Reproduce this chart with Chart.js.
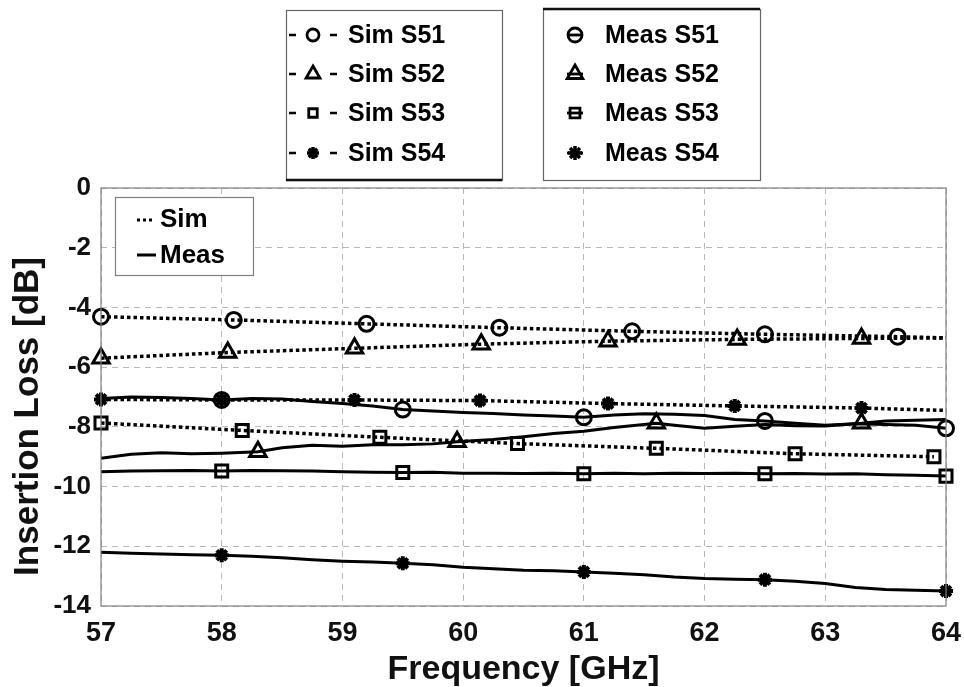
<!DOCTYPE html>
<html>
<head>
<meta charset="utf-8">
<script src="https://cdn.jsdelivr.net/npm/chart.js@4"></script>
<style>
html, body { margin: 0; padding: 0; background: #fff; }
</style>
</head>
<body>
<canvas id="myChart" width="964" height="687"></canvas>
<script>
// simulated curves (dotted)
const simS51Freq = [57, 58.1, 59.2, 60.3, 61.4, 62.5, 63.6, 64];
const simS51 = [-4.31, -4.42, -4.55, -4.68, -4.8, -4.9, -4.98, -5.02];
const simS52Freq = [57, 58.05, 59.1, 60.15, 61.2, 62.27, 63.3, 64];
const simS52 = [-5.7, -5.51, -5.37, -5.23, -5.13, -5.07, -5.04, -5.02];
const simS53Freq = [57, 58.17, 59.31, 60.45, 61.6, 62.75, 63.9];
const simS53 = [-7.87, -8.12, -8.35, -8.56, -8.72, -8.9, -9.0];
const simS54Freq = [57, 58.0, 59.1, 60.14, 61.2, 62.25, 63.3, 64];
const simS54 = [-7.08, -7.1, -7.1, -7.12, -7.22, -7.3, -7.37, -7.45];

// measured curves (solid)
const measFreq = [57, 57.25, 57.5, 57.75, 58, 58.25, 58.5, 58.75, 59, 59.25, 59.5, 59.75, 60, 60.25, 60.5,
                  60.75, 61, 61.25, 61.5, 61.75, 62, 62.25, 62.5, 62.75, 63, 63.25, 63.5, 63.75, 64];
const measS51 = [-7.05, -7.0, -7.02, -7.05, -7.1, -7.05, -7.07, -7.15, -7.22, -7.3, -7.42, -7.47, -7.52, -7.55, -7.6,
                 -7.64, -7.68, -7.6, -7.56, -7.58, -7.62, -7.75, -7.8, -7.88, -7.95, -7.9, -7.92, -7.95, -8.05];
const measS53 = [-9.5, -9.48, -9.47, -9.46, -9.48, -9.46, -9.47, -9.48, -9.5, -9.52, -9.53, -9.52, -9.55, -9.55, -9.56,
                 -9.55, -9.57, -9.55, -9.57, -9.55, -9.56, -9.55, -9.57, -9.56, -9.58, -9.57, -9.6, -9.62, -9.65];
const measS54 = [-12.2, -12.23, -12.26, -12.28, -12.3, -12.33, -12.38, -12.45, -12.5, -12.53, -12.57, -12.62, -12.7, -12.75, -12.8,
                 -12.82, -12.86, -12.9, -12.95, -13.03, -13.08, -13.1, -13.12, -13.17, -13.25, -13.38, -13.45, -13.47, -13.5];
const measS52Freq = [57, 57.25, 57.5, 57.75, 58, 58.3, 58.5, 58.75, 59, 59.25, 59.5, 59.75, 59.95, 60.25, 60.5,
                     60.75, 61, 61.25, 61.6, 61.75, 62, 62.25, 62.5, 62.75, 63, 63.3, 63.5, 63.75, 64];
const measS52 = [-9.05, -8.92, -8.87, -8.9, -8.88, -8.83, -8.7, -8.62, -8.65, -8.6, -8.6, -8.57, -8.5, -8.42, -8.33,
                 -8.22, -8.15, -8.02, -7.88, -7.95, -8.05, -7.98, -7.92, -7.96, -7.97, -7.88, -7.8, -7.78, -7.75];

// where the markers sit
const simS51Marks = [57, 58.1, 59.2, 60.3, 61.4, 62.5, 63.6];
const simS52Marks = [57, 58.05, 59.1, 60.15, 61.2, 62.27, 63.3];
const simS53Marks = [57, 58.17, 59.31, 60.45, 61.6, 62.75, 63.9];
const simS54Marks = [57, 58.0, 59.1, 60.14, 61.2, 62.25, 63.3];
const measMarks = [58, 59.5, 61, 62.5, 64];
const measS52Marks = [58.3, 59.95, 61.6, 63.3];

const xTicks = [57, 58, 59, 60, 61, 62, 63, 64];
const simLegend = ['Sim S51', 'Sim S52', 'Sim S53', 'Sim S54'];
const measLegend = ['Meas S51', 'Meas S52', 'Meas S53', 'Meas S54'];

const FONT = '"Liberation Sans", Arial, sans-serif';
const markerSize = { circle: 7.5, triangle: 9.5, rect: 8.5, star: 7 };
const markerWidth = { circle: 3, triangle: 3, rect: 3, star: 4 };
const styles = ['circle', 'triangle', 'rect', 'star'];

function series(label, freqs, vals, marks, style, dotted) {
    return {
        label: label,
        data: freqs.map((f, i) => ({ x: f, y: vals[i] })),
        borderColor: '#000',
        backgroundColor: 'rgba(0,0,0,0)',
        borderWidth: dotted ? 3.5 : 3,
        borderDash: dotted ? [3.5, 3] : [],
        borderCapStyle: 'butt',
        pointStyle: style,
        pointRadius: freqs.map(f => marks.includes(f) ? markerSize[style] : 0),
        pointBorderWidth: markerWidth[style],
        pointBorderColor: '#000',
        pointBackgroundColor: 'rgba(0,0,0,0)',
        tension: 0,
        clip: 14
    };
}

function drawMarker(ctx, style, x, y, r) {
    ctx.beginPath();
    if (style === 'circle') {
        ctx.arc(x, y, r, 0, Math.PI * 2);
    } else if (style === 'triangle') {
        ctx.moveTo(x, y - r);
        ctx.lineTo(x + r * 0.866, y + r * 0.5);
        ctx.lineTo(x - r * 0.866, y + r * 0.5);
        ctx.closePath();
    } else if (style === 'rect') {
        const s = r * Math.SQRT1_2;
        ctx.rect(x - s, y - s, 2 * s, 2 * s);
    } else {
        for (let k = 0; k < 4; k++) {
            const a = k * Math.PI / 4;
            ctx.moveTo(x - r * Math.cos(a), y - r * Math.sin(a));
            ctx.lineTo(x + r * Math.cos(a), y + r * Math.sin(a));
        }
    }
    ctx.stroke();
}

const legendBoxes = {
    id: 'legendBoxes',
    afterDraw(chart) {
        const ctx = chart.ctx;
        const a = chart.chartArea;
        const rows = [35, 74, 113, 153];
        ctx.save();
        ctx.setLineDash([]);
        // frame of the plot area
        ctx.strokeStyle = '#808080';
        ctx.lineWidth = 1.2;
        ctx.strokeRect(a.left, a.top, a.right - a.left, a.bottom - a.top);

        // the two legend boxes above the plot
        ctx.strokeStyle = '#666';
        ctx.lineWidth = 1.2;
        ctx.strokeRect(286.5, 10.5, 216, 170);
        ctx.strokeRect(543.5, 9.5, 217, 171);
        ctx.strokeStyle = '#111';
        ctx.lineWidth = 2.5;
        ctx.beginPath();
        ctx.moveTo(286, 180); ctx.lineTo(502, 180);
        ctx.moveTo(543, 9); ctx.lineTo(760, 9);
        ctx.stroke();

        ctx.fillStyle = '#000';
        ctx.font = 'bold 25px ' + FONT;
        ctx.textBaseline = 'middle';
        ctx.strokeStyle = '#000';
        for (let i = 0; i < 4; i++) {
            const y = rows[i];
            ctx.lineWidth = 2.5;
            ctx.beginPath();
            ctx.moveTo(289, y); ctx.lineTo(296, y);
            ctx.moveTo(330, y); ctx.lineTo(337, y);
            ctx.stroke();
            ctx.lineWidth = styles[i] === 'star' ? 3.5 : 2.8;
            drawMarker(ctx, styles[i], 313, y, styles[i] === 'triangle' ? 8 : 6);
            ctx.fillText(simLegend[i], 348, y + 1);

            ctx.lineWidth = 2.8;
            ctx.beginPath();
            ctx.moveTo(567, y); ctx.lineTo(583, y);
            ctx.stroke();
            ctx.lineWidth = styles[i] === 'star' ? 3.5 : 2.8;
            drawMarker(ctx, styles[i], 575, y, styles[i] === 'triangle' ? 9 : 7);
            ctx.fillText(measLegend[i], 605, y + 1);
        }

        // Sim / Meas line-style legend inside the plot
        ctx.fillStyle = '#fff';
        ctx.fillRect(115, 197, 138, 78);
        ctx.strokeStyle = '#808080';
        ctx.lineWidth = 1.2;
        ctx.strokeRect(115.5, 197.5, 138, 78);
        ctx.strokeStyle = '#000';
        ctx.lineWidth = 3;
        ctx.setLineDash([3, 3]);
        ctx.beginPath(); ctx.moveTo(137, 220); ctx.lineTo(155, 220); ctx.stroke();
        ctx.setLineDash([]);
        ctx.beginPath(); ctx.moveTo(137, 255); ctx.lineTo(156, 255); ctx.stroke();
        ctx.fillStyle = '#000';
        ctx.font = 'bold 26px ' + FONT;
        ctx.fillText('Sim', 160, 220);
        ctx.fillText('Meas', 160, 256);
        ctx.restore();
    }
};

document.addEventListener("DOMContentLoaded", function () {
    new Chart("myChart", {
        type: "line",
        data: {
            datasets: [
                series('Sim S51', simS51Freq, simS51, simS51Marks, 'circle', true),
                series('Sim S52', simS52Freq, simS52, simS52Marks, 'triangle', true),
                series('Sim S53', simS53Freq, simS53, simS53Marks, 'rect', true),
                series('Sim S54', simS54Freq, simS54, simS54Marks, 'star', true),
                series('Meas S51', measFreq, measS51, measMarks, 'circle', false),
                series('Meas S52', measS52Freq, measS52, measS52Marks, 'triangle', false),
                series('Meas S53', measFreq, measS53, measMarks, 'rect', false),
                series('Meas S54', measFreq, measS54, measMarks, 'star', false)
            ]
        },
        options: {
            responsive: false,
            animation: false,
            layout: { padding: { top: 188, right: 18, bottom: 0, left: 8 } },
            scales: {
                x: {
                    type: 'linear',
                    min: 57,
                    max: 64,
                    afterBuildTicks: (scale) => { scale.ticks = xTicks.map(v => ({ value: v })); },
                    afterFit: (scale) => { scale.height = 81; },
                    // invisible tick marks push the labels down without widening the right padding
                    grid: { color: '#b8b8b8', lineWidth: 1, drawTicks: true, tickLength: 11, tickColor: 'rgba(0,0,0,0)', borderDash: [6, 5] },
                    border: { display: false, dash: [6, 5] },
                    ticks: { color: '#111', padding: 0, maxRotation: 0, font: { family: FONT, size: 27, weight: 'bold' } },
                    title: {
                        display: true,
                        text: 'Frequency [GHz]',
                        color: '#111',
                        padding: { top: 0, bottom: 0 },
                        font: { family: FONT, size: 34, weight: 'bold', lineHeight: 1 }
                    }
                },
                y: {
                    min: -14,
                    max: 0,
                    ticks: { stepSize: 2, color: '#111', padding: 10, font: { family: FONT, size: 26, weight: 'bold' } },
                    afterFit: (scale) => { scale.width = 93; },
                    grid: { color: '#b8b8b8', lineWidth: 1, drawTicks: false, borderDash: [6, 5] },
                    border: { display: false, dash: [6, 5] },
                    title: {
                        display: true,
                        // trailing spaces push the centred label down to where it sits in the original
                        text: 'Insertion Loss [dB]    ',
                        color: '#111',
                        padding: { top: 0, bottom: 0 },
                        font: { family: FONT, size: 35, weight: 'bold', lineHeight: 1.15 }
                    }
                }
            },
            plugins: {
                legend: { display: false },
                tooltip: { enabled: false }
            }
        },
        plugins: [legendBoxes]
    });
});
</script>
</body>
</html>
